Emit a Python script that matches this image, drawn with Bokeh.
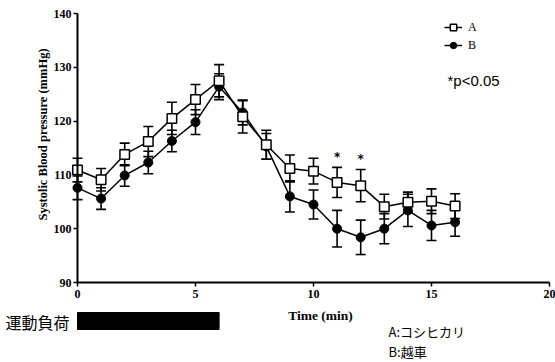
import numpy as np
from bokeh.plotting import figure
from bokeh.models import (ColumnDataSource, LinearAxis, FixedTicker, Whisker, TeeHead,
                          Legend, LegendItem, Range1d)
from bokeh.core.properties import value
from bokeh.embed import file_html
from bokeh.resources import INLINE

# ---------------- data ----------------
time_min = list(range(17))
a_mean = [110.9, 109.1, 113.8, 116.2, 120.5, 124.0, 127.5, 120.8, 115.6, 111.2,
          110.7, 108.6, 108.0, 104.1, 104.9, 105.1, 104.2]
a_err = [2.2, 2.1, 2.1, 2.8, 3.0, 2.8, 3.0, 3.0, 2.7, 2.5,
         2.4, 2.8, 3.0, 2.3, 1.9, 2.3, 2.3]
b_mean = [107.6, 105.6, 109.9, 112.3, 116.3, 119.8, 126.4, 121.6, 115.3, 106.0,
          104.5, 100.0, 98.4, 100.0, 103.4, 100.6, 101.2]
b_err = [2.2, 2.0, 2.0, 2.1, 2.0, 2.3, 2.4, 2.3, 2.4, 2.9,
         2.7, 3.4, 3.2, 2.8, 3.0, 2.8, 2.6]
signif_times = [11, 12]
x_ticks = [0, 5, 10, 15, 20]
y_ticks = [90, 100, 110, 120, 130, 140]
exercise_start, exercise_end = 0, 6

SERIF = value("Liberation Serif")
CJK = value("Noto Sans CJK JP")

W, H = 555, 362
X0, PX_PER_MIN = 77, 23.6      # pixel of t=0 and pixels per minute
Y140, PX_PER_MMHG = 13, 5.38   # pixel of 140 mmHg and pixels per mmHg


def xs(px):
    return (px - X0) / PX_PER_MIN


def ys(py):
    return 140 - (py - Y140) / PX_PER_MMHG


# frame covers whole canvas; axes are placed at fixed locations
p = figure(width=W, height=H, output_backend="svg", toolbar_location=None,
           x_axis_type=None, y_axis_type=None,
           x_range=Range1d(xs(0), xs(W)), y_range=Range1d(ys(H), ys(0)),
           min_border=0)
p.outline_line_color = None
p.grid.visible = False
p.background_fill_color = "white"
p.border_fill_color = "white"

xaxis = LinearAxis(fixed_location=90, bounds=(0, 20), ticker=FixedTicker(ticks=x_ticks))
yaxis = LinearAxis(fixed_location=0, bounds=(90, 140), ticker=FixedTicker(ticks=y_ticks))
for ax in (xaxis, yaxis):
    ax.axis_line_width = 2
    ax.axis_line_color = "black"
    ax.major_tick_line_width = 1.5
    ax.major_tick_line_color = "black"
    ax.major_tick_out = 4
    ax.major_tick_in = 0
    ax.minor_tick_line_color = None
    ax.major_label_text_font = "Liberation Serif"
    ax.major_label_text_font_size = "12px"
    ax.major_label_text_font_style = "bold"
    ax.major_label_text_color = "black"
xaxis.major_label_standoff = 3
yaxis.major_label_standoff = 2
p.add_layout(xaxis, "below")
p.add_layout(yaxis, "left")

src_a = ColumnDataSource(dict(x=time_min, y=a_mean,
                              lo=[m - e for m, e in zip(a_mean, a_err)],
                              hi=[m + e for m, e in zip(a_mean, a_err)]))
src_b = ColumnDataSource(dict(x=time_min, y=b_mean,
                              lo=[m - e for m, e in zip(b_mean, b_err)],
                              hi=[m + e for m, e in zip(b_mean, b_err)]))

for src in (src_a, src_b):
    w = Whisker(base="x", lower="lo", upper="hi", source=src,
                line_color="black", line_width=1.6,
                upper_head=TeeHead(size=10, line_width=1.6, line_color="black"),
                lower_head=TeeHead(size=10, line_width=1.6, line_color="black"))
    p.add_layout(w)

la = p.line("x", "y", source=src_a, line_color="black", line_width=1.5)
lb = p.line("x", "y", source=src_b, line_color="black", line_width=1.5)
mb = p.scatter("x", "y", source=src_b, marker="circle", size=9,
               fill_color="black", line_color="black")
ma = p.scatter("x", "y", source=src_a, marker="square", size=9.5,
               fill_color="white", line_color="black", line_width=1.5)

# significance asterisks
p.text(x=signif_times, y=[a_mean[t] + a_err[t] + 0.6 for t in signif_times],
       text=["*"] * len(signif_times), text_align="center", text_baseline="bottom",
       text_font=value("DejaVu Sans"), text_font_style="bold",
       text_font_size="12px", text_color="black")

# legend
legend = Legend(items=[LegendItem(label="A", renderers=[la, ma]),
                       LegendItem(label="B", renderers=[lb, mb])],
                location=(444, 309), orientation="vertical",
                glyph_width=18, glyph_height=16, spacing=2, padding=0, margin=0,
                label_text_font="Liberation Serif", label_text_font_size="12px",
                label_text_color="black",
                label_standoff=6, border_line_color=None, background_fill_alpha=0)
p.add_layout(legend)

p.text(x=[xs(447)], y=[ys(80)], text=["*p<0.05"],
       text_align="left", text_baseline="middle", text_font=value("Liberation Sans"),
       text_font_size="15px", text_color="black")

# axis titles
p.text(x=[xs(42)], y=[ys(134)], text=["Systolic Blood pressure (mmHg)"],
       angle=np.pi / 2, text_align="center", text_baseline="middle",
       text_font=SERIF, text_font_style="bold", text_font_size="12.5px", text_color="black")
p.text(x=[xs(320)], y=[ys(315)], text=["Time (min)"],
       text_align="center", text_baseline="middle",
       text_font=SERIF, text_font_style="bold", text_font_size="13.5px", text_color="black")

# exercise load bar
bar_top, bar_bot = ys(312), ys(329)
p.quad(left=[exercise_start], right=[exercise_end], bottom=[bar_bot], top=[bar_top],
       fill_color="black", line_color="black")
p.text(x=[xs(69)], y=[ys(321)], text=["運動負荷"],
       text_align="right", text_baseline="middle", text_font=CJK,
       text_font_size="16px", text_color="black")

# group names
p.text(x=[xs(388)] * 2, y=[ys(331), ys(351)],
       text=["A:コシヒカリ", "B:越車"], text_align="left", text_baseline="middle",
       text_font=CJK, text_font_size="13px", text_color="black")

open("out.html", "w").write(file_html(p, INLINE))
